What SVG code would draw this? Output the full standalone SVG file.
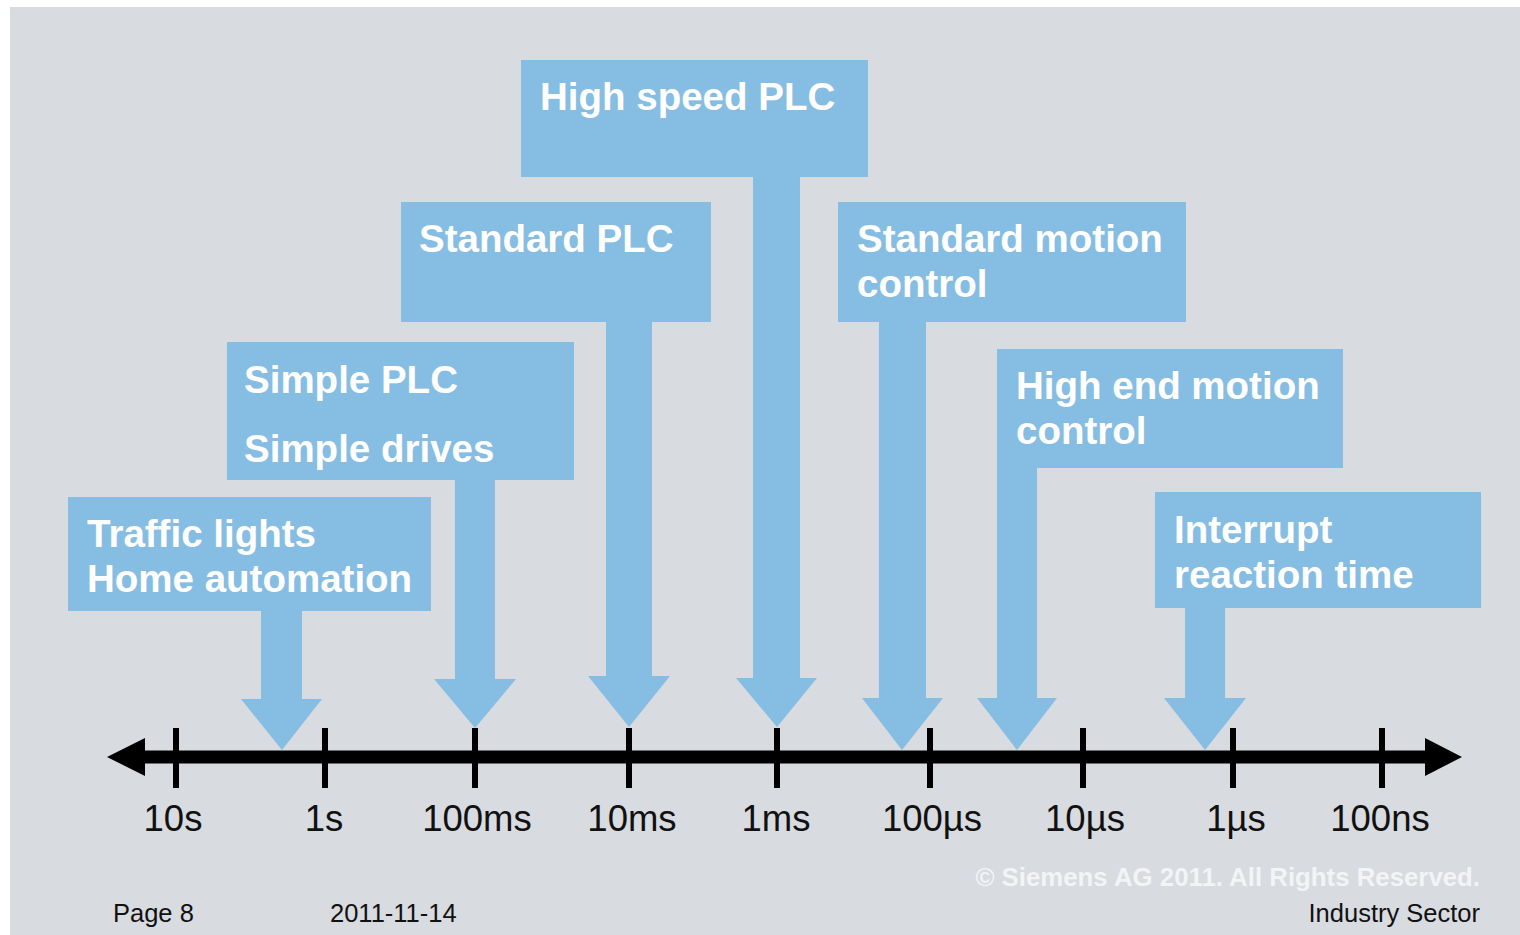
<svg xmlns="http://www.w3.org/2000/svg" width="1520" height="935" viewBox="0 0 1520 935">
<style>
.box{fill:#86bde3}
.lbl{font-family:"Liberation Sans",Arial,sans-serif;font-weight:bold;font-size:38.5px;fill:#ffffff}
.ax{font-family:"Liberation Sans",Arial,sans-serif;font-size:36.5px;fill:#111111;text-anchor:middle}
.ft{font-family:"Liberation Sans",Arial,sans-serif;font-size:25.5px;fill:#111111}
.tick{stroke:#000;stroke-width:6}
</style>
<rect x="0" y="0" width="1520" height="935" fill="#ffffff"/>
<rect x="10" y="7" width="1510" height="928" fill="#d8dbe0"/>

<g id="traffic">
<rect class="box" x="68" y="497" width="363" height="114"/>
<polygon class="box" points="261,610 302,610 302,699 322,699 282,750 241,699 261,699"/>
<text class="lbl" x="87" y="547">Traffic lights</text>
<text class="lbl" x="87" y="592">Home automation</text>
</g>

<g id="simple">
<rect class="box" x="227" y="342" width="347" height="138"/>
<polygon class="box" points="455,479 495,479 495,679 516,679 475,728 434,679 455,679"/>
<text class="lbl" x="244" y="393">Simple PLC</text>
<text class="lbl" x="244" y="462">Simple drives</text>
</g>

<g id="standard-plc">
<rect class="box" x="401" y="202" width="310" height="120"/>
<polygon class="box" points="606,321 652,321 652,676 670,676 629,727 588,676 606,676"/>
<text class="lbl" x="419" y="252">Standard PLC</text>
</g>

<g id="high-speed-plc">
<rect class="box" x="521" y="60" width="347" height="117"/>
<polygon class="box" points="753,176 800,176 800,678 817,678 777,727 736,678 753,678"/>
<text class="lbl" x="540" y="110">High speed PLC</text>
</g>

<g id="standard-motion">
<rect class="box" x="838" y="202" width="348" height="120"/>
<polygon class="box" points="879,321 926,321 926,698 943,698 902,750 862,698 879,698"/>
<text class="lbl" x="857" y="252">Standard motion</text>
<text class="lbl" x="857" y="297">control</text>
</g>

<g id="high-end-motion">
<rect class="box" x="997" y="349" width="346" height="119"/>
<polygon class="box" points="997,467 1037,467 1037,698 1057,698 1017,750 977,698 997,698"/>
<text class="lbl" x="1016" y="399">High end motion</text>
<text class="lbl" x="1016" y="444">control</text>
</g>

<g id="interrupt">
<rect class="box" x="1155" y="492" width="326" height="116"/>
<polygon class="box" points="1185,607 1225,607 1225,698 1246,698 1205,750 1164,698 1185,698"/>
<text class="lbl" x="1174" y="543">Interrupt</text>
<text class="lbl" x="1174" y="588">reaction time</text>
</g>

<g id="axis">
<line x1="140" y1="757" x2="1430" y2="757" stroke="#000" stroke-width="13"/>
<polygon points="107,757 145,738 145,776" fill="#000"/>
<polygon points="1462,757 1425,738 1425,776" fill="#000"/>
<line class="tick" x1="176" y1="728" x2="176" y2="788"/>
<line class="tick" x1="325" y1="728" x2="325" y2="788"/>
<line class="tick" x1="475" y1="728" x2="475" y2="788"/>
<line class="tick" x1="629" y1="728" x2="629" y2="788"/>
<line class="tick" x1="777" y1="728" x2="777" y2="788"/>
<line class="tick" x1="930" y1="728" x2="930" y2="788"/>
<line class="tick" x1="1083" y1="728" x2="1083" y2="788"/>
<line class="tick" x1="1233" y1="728" x2="1233" y2="788"/>
<line class="tick" x1="1382" y1="728" x2="1382" y2="788"/>
<text class="ax" x="173" y="831">10s</text>
<text class="ax" x="324" y="831">1s</text>
<text class="ax" x="477" y="831">100ms</text>
<text class="ax" x="632" y="831">10ms</text>
<text class="ax" x="776" y="831">1ms</text>
<text class="ax" x="932" y="831">100µs</text>
<text class="ax" x="1085" y="831">10µs</text>
<text class="ax" x="1236" y="831">1µs</text>
<text class="ax" x="1380" y="831">100ns</text>
</g>

<g id="footer">
<text x="1480" y="886" text-anchor="end" font-family="Liberation Sans, Arial, sans-serif" font-weight="bold" font-size="25.8" fill="#f2f4f6">© Siemens AG 2011. All Rights Reserved.</text>
<text class="ft" x="113" y="922">Page 8</text>
<text class="ft" x="330" y="922">2011-11-14</text>
<text class="ft" x="1480" y="922" text-anchor="end">Industry Sector</text>
</g>
</svg>
